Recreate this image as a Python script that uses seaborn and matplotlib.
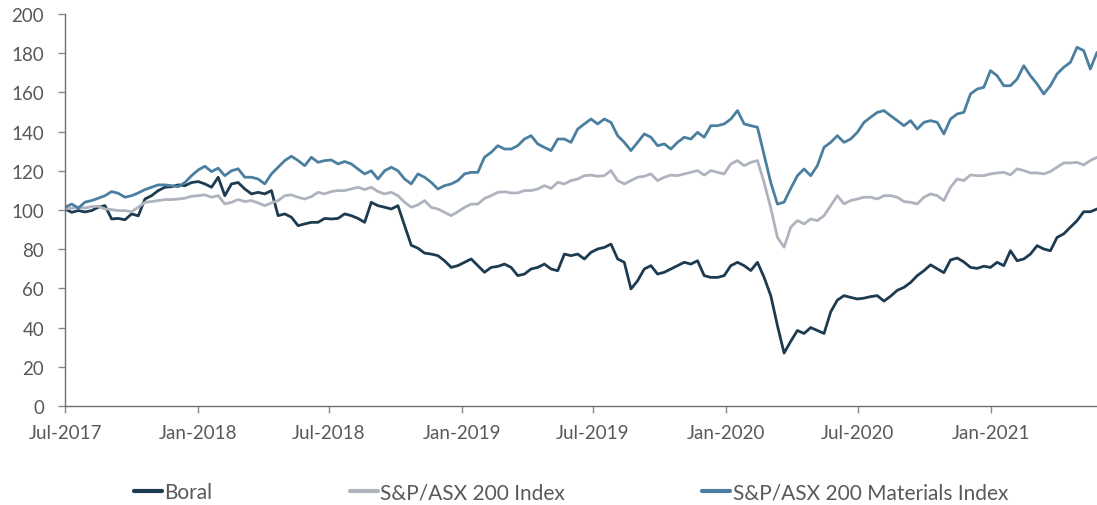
import numpy as np
import pandas as pd
import matplotlib
matplotlib.use("Agg")
import matplotlib.pyplot as plt
import seaborn as sns
from matplotlib.lines import Line2D

series_names = ["Boral", "S&P/ASX 200 Index", "S&P/ASX 200 Materials Index"]

boral = [100.5, 98.8, 99.7, 99, 99.7, 101.4, 102.2, 95.4, 95.7, 95, 98, 97, 105.6, 107.3, 109.9, 111.6,
         111.9, 112.8, 112.4, 114, 114.5, 113.3, 111.6, 116.7, 107.3, 113.3, 114, 110.7, 108.2, 109, 108.2,
         109.9, 97.1, 98, 96.3, 92, 92.9, 93.7, 93.7, 95.7, 95.4, 95.7, 98, 97.1, 95.7, 93.7, 103.9, 102.2,
         101.4, 100.5, 102.2, 92, 82, 80.5, 78, 77.5, 76.7, 74.1, 70.7, 71.6, 73.3, 75, 71.6, 68.2, 70.7,
         71.2, 72.4, 70.7, 66.5, 67.3, 69.9, 70.7, 72.4, 69.9, 69, 77.5, 76.7, 77.5, 75, 78.4, 80.1, 80.9,
         82.6, 75, 73.3, 59.7, 63.9, 69.9, 71.6, 67.3, 68.2, 69.9, 71.6, 73.3, 72.4, 74.1, 66.5, 65.6, 65.6,
         66.5, 71.6, 73.3, 71.6, 69.1, 73.3, 65.6, 56.3, 41, 27, 33, 38.5, 37, 40, 38.5, 37, 48, 54, 56.3,
         55.4, 54.6, 55, 55.8, 56.3, 53.5, 56, 59, 60.5, 63, 66.5, 69, 72, 70, 68, 74.5, 75.5, 73.5, 70.7,
         70.2, 71.3, 70.7, 73.3, 71.6, 79.2, 74.1, 75, 77.5, 81.8, 80.1, 79.2, 86, 87.8, 91.2, 94.5, 99.1,
         99.1, 100.5]

asx200 = [100.5, 100.9, 101.4, 101, 101.7, 101.9, 100.5, 100.2, 99.7, 99.7, 99.1, 101.4, 103.9, 104.3,
          104.8, 105.3, 105.3, 105.6, 106, 107, 107.3, 107.7, 106.5, 107.3, 103.1, 103.9, 105.3, 104.3,
          104.8, 103.6, 102.2, 103.6, 104.8, 107.3, 107.7, 106.5, 105.6, 106.8, 109, 108.2, 109.4, 109.9,
          109.9, 110.7, 111.6, 110.4, 111.6, 109.4, 108.2, 109, 107.3, 103.9, 101.4, 102.6, 104.8, 101.3,
          100.5, 98.8, 97.1, 99.1, 101.3, 103, 103, 105.9, 107.3, 109, 109.3, 108.7, 108.7, 109.9, 109.9,
          110.7, 112.4, 111, 114.1, 113.3, 115, 115.8, 117.5, 117.8, 117.2, 117.5, 120.1, 115, 113.3, 115,
          116.7, 117.2, 118.4, 115, 116.7, 117.8, 117.5, 118.4, 119.2, 120.1, 117.8, 120.1, 119.2, 118.4,
          123.5, 125.2, 122.6, 124.3, 125.2, 114, 101, 86, 81, 91.2, 94.6, 92.9, 95.4, 94.6, 97.1, 102.2,
          107.3, 103.1, 104.8, 105.6, 106.5, 106.5, 105.6, 107.3, 107.3, 106.5, 104.3, 103.9, 103.1, 106.5,
          108.2, 107.3, 104.8, 111.6, 115.8, 115, 117.9, 117.5, 117.5, 118.4, 118.9, 119.2, 117.9, 121,
          120.1, 118.9, 118.9, 118.4, 119.6, 121.8, 124, 124, 124.3, 123, 125.2, 126.9]

materials = [101.4, 103, 101, 104, 104.8, 106, 107.3, 109.4, 108.5, 106.5, 107.3, 108.7, 110.4, 111.6,
             112.8, 112.8, 112.4, 111.9, 114, 117.5, 120.4, 122.3, 119.6, 121.3, 117.5, 120, 121, 116.7,
             116.7, 115.8, 113.3, 118.4, 121.8, 125.2, 127.4, 125.2, 122.6, 126.9, 124.3, 125.2, 125.5,
             123.5, 124.7, 123.5, 120.9, 118.4, 120, 115.8, 120, 121.8, 120, 115.8, 113.3, 118.4, 116.7,
             114.1, 110.7, 112.4, 113.3, 115, 118.4, 119.2, 119.2, 126.9, 129.4, 132.8, 131.1, 131.1, 132.8,
             136.2, 137.9, 133.7, 131.9, 130.3, 136.2, 136.2, 134.5, 141.3, 143.9, 146.4, 143.9, 146.4,
             144.7, 137.9, 134.5, 130.3, 134.5, 138.8, 137.1, 132.8, 133.7, 131.1, 134.5, 137.1, 136.2,
             139.6, 137.1, 143, 143, 143.9, 146.4, 150.7, 143.9, 143, 142.2, 128, 114, 103, 104, 111, 117.5,
             120.9, 117.5, 122.6, 132, 134.5, 137.9, 134.5, 136.2, 139.6, 144.7, 147.3, 149.8, 150.7, 148.1,
             145.6, 143, 145.6, 141.3, 144.7, 145.6, 144.7, 138.8, 146.4, 149, 149.8, 159.2, 161.7, 162.6,
             171.1, 168.5, 163.4, 163.4, 166.8, 173.6, 168.5, 164.3, 159.2, 163.4, 169.4, 172.8, 175.3, 183,
             181.3, 171.9, 180.4]

start_date = "2017-07-01"
end_date = "2021-05-28"
x_tick_labels = ["Jul-2017", "Jan-2018", "Jul-2018", "Jan-2019", "Jul-2019",
                 "Jan-2020", "Jul-2020", "Jan-2021"]
y_ticks = [0, 20, 40, 60, 80, 100, 120, 140, 160, 180, 200]

colors = {"Boral": "#1d3b50", "S&P/ASX 200 Index": "#aeb3bd",
          "S&P/ASX 200 Materials Index": "#4a7fa0"}

dates = pd.date_range(start=start_date, end=end_date, periods=len(boral))
df = pd.concat([
    pd.DataFrame({"date": dates, "value": boral, "series": series_names[0]}),
    pd.DataFrame({"date": dates, "value": asx200, "series": series_names[1]}),
    pd.DataFrame({"date": dates, "value": materials, "series": series_names[2]}),
])

sns.set_style("white")
plt.rcParams["font.family"] = ["Lato", "DejaVu Sans"]

fig = plt.figure(figsize=(10.97, 5.06), dpi=100)
ax = fig.add_axes([0.0593, 0.1957, 0.9407, 0.7747])

sns.lineplot(data=df, x="date", y="value", hue="series", hue_order=series_names,
             palette=colors, linewidth=2.0, ax=ax, legend=False)

ax.set_xlim(pd.Timestamp(start_date), pd.Timestamp(end_date))
ax.set_ylim(0, 200)
ax.set_yticks(y_ticks)
tick_dates = [pd.to_datetime(t, format="%b-%Y") for t in x_tick_labels]
ax.set_xticks(tick_dates)
ax.set_xticklabels(x_tick_labels)
ax.set_xlabel("")
ax.set_ylabel("")

for side in ["top", "right"]:
    ax.spines[side].set_visible(False)
for side in ["left", "bottom"]:
    ax.spines[side].set_color("#6e6e6e")
    ax.spines[side].set_linewidth(1.0)
ax.tick_params(axis="both", which="both", direction="out", length=5, width=1.0,
               color="#8a8a8a", labelcolor="#595959", labelsize=13.5,
               left=True, bottom=True)
ax.tick_params(axis="x", pad=8)
ax.tick_params(axis="y", pad=10)

handles = [Line2D([0], [0], color=colors[n], linewidth=3) for n in series_names]
fig.legend(handles, series_names, loc="center", bbox_to_anchor=(0.5205, 0.025), ncol=3,
           frameon=False, fontsize=15, handlelength=1.35, handletextpad=0.1,
           columnspacing=6.6, labelcolor="#595959")

fig.savefig("out.png", dpi=100)
